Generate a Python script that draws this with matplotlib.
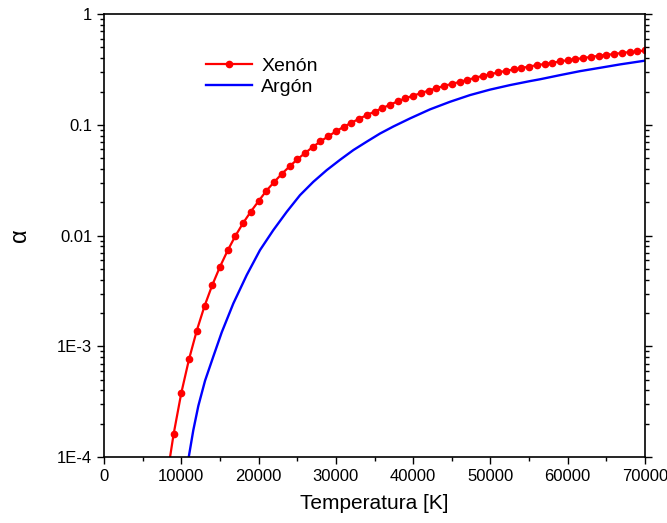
import numpy as np
import matplotlib
matplotlib.use("Agg")
import matplotlib.pyplot as plt
from matplotlib.ticker import FixedLocator, FixedFormatter, LogLocator, NullFormatter, MultipleLocator

plt.rcParams['font.family'] = ['Liberation Sans', 'DejaVu Sans']

# Xenon, one point every 1000 K
t_xe = [8000, 9000, 10000, 11000, 12000, 13000, 14000, 15000, 16000, 17000, 18000,
        19000, 20000, 21000, 22000, 23000, 24000, 25000, 26000, 27000, 28000,
        29000, 30000, 31000, 32000, 33000, 34000, 35000, 36000, 37000, 38000,
        39000, 40000, 41000, 42000, 43000, 44000, 45000, 46000, 47000, 48000,
        49000, 50000, 51000, 52000, 53000, 54000, 55000, 56000, 57000, 58000,
        59000, 60000, 61000, 62000, 63000, 64000, 65000, 66000, 67000, 68000,
        69000, 70000]
a_xe = [5.7e-5, 1.61e-4, 3.81e-4, 7.67e-4, 1.39e-3, 2.31e-3, 3.57e-3, 5.23e-3, 7.35e-3, 9.95e-3, 0.0130,
        0.0165, 0.0205, 0.0254, 0.0304, 0.0361, 0.0421, 0.0488, 0.0556, 0.0630, 0.0709,
        0.0787, 0.0873, 0.0960, 0.1044, 0.1135, 0.1225, 0.1317, 0.1416, 0.1520, 0.1630,
        0.1740, 0.1835, 0.1935, 0.2040, 0.2145, 0.2250, 0.2345, 0.2440, 0.2550, 0.2660,
        0.2770, 0.2870, 0.2975, 0.3075, 0.3165, 0.3255, 0.3365, 0.3460, 0.3545, 0.3635,
        0.3740, 0.3840, 0.3925, 0.4010, 0.4110, 0.4200, 0.4290, 0.4355, 0.4470, 0.4540,
        0.4605, 0.4700]

# Argon (plain line)
t_ar = [10500, 11000, 11550, 12200, 13070, 14140, 15230, 16730, 18460, 20180, 21900,
        23640, 25360, 27080, 28810, 30530, 32260, 33990, 35710, 37430, 39590,
        42180, 44770, 47350, 49940, 52530, 55120, 56410, 59000, 61590, 64180,
        66770, 70000]
a_ar = [6.5e-5, 1.04e-4, 1.75e-4, 2.90e-4, 4.90e-4, 8.10e-4, 1.34e-3, 2.44e-3, 4.40e-3, 7.40e-3, 0.0112,
        0.0164, 0.0232, 0.0306, 0.0390, 0.0483, 0.0592, 0.0705, 0.0835, 0.0966, 0.1143,
        0.138, 0.1616, 0.1857, 0.2080, 0.2286, 0.2484, 0.2580, 0.2812, 0.3055, 0.3275,
        0.3515, 0.3800]

y_ticks = [1e-4, 1e-3, 1e-2, 1e-1, 1]
y_labels = ['1E-4', '1E-3', '0.01', '0.1', '1']

fig = plt.figure(figsize=(6.67, 5.23), dpi=100)
ax = fig.add_axes([0.156, 0.126, 0.811, 0.847])

ax.plot(t_xe, a_xe, color='red', lw=1.6, marker='o', ms=4.5, label='Xenón')
ax.plot(t_ar, a_ar, color='blue', lw=1.7, label='Argón')

ax.set_yscale('log')
ax.set_xlim(0, 70000)
ax.set_ylim(1e-4, 1)

ax.xaxis.set_major_locator(MultipleLocator(10000))
ax.xaxis.set_minor_locator(MultipleLocator(5000))
ax.yaxis.set_major_locator(FixedLocator(y_ticks))
ax.yaxis.set_major_formatter(FixedFormatter(y_labels))
ax.yaxis.set_minor_locator(LogLocator(base=10, subs=np.arange(2, 10)))
ax.yaxis.set_minor_formatter(NullFormatter())

ax.tick_params(which='both', direction='out', width=1, labelsize=12, right=True, top=False)
ax.tick_params(which='major', length=5)
ax.tick_params(which='minor', length=3)
for s in ax.spines.values():
    s.set_linewidth(1.2)

ax.set_xlabel('Temperatura [K]', fontsize=15, labelpad=7)
ax.set_ylabel('α', fontsize=17, labelpad=19)

ax.legend(loc='upper left', bbox_to_anchor=(0.17, 0.925), frameon=False, fontsize=14,
          handlelength=2.4, handletextpad=0.45, borderpad=0, labelspacing=0.2)

fig.savefig('out.png', dpi=100)
